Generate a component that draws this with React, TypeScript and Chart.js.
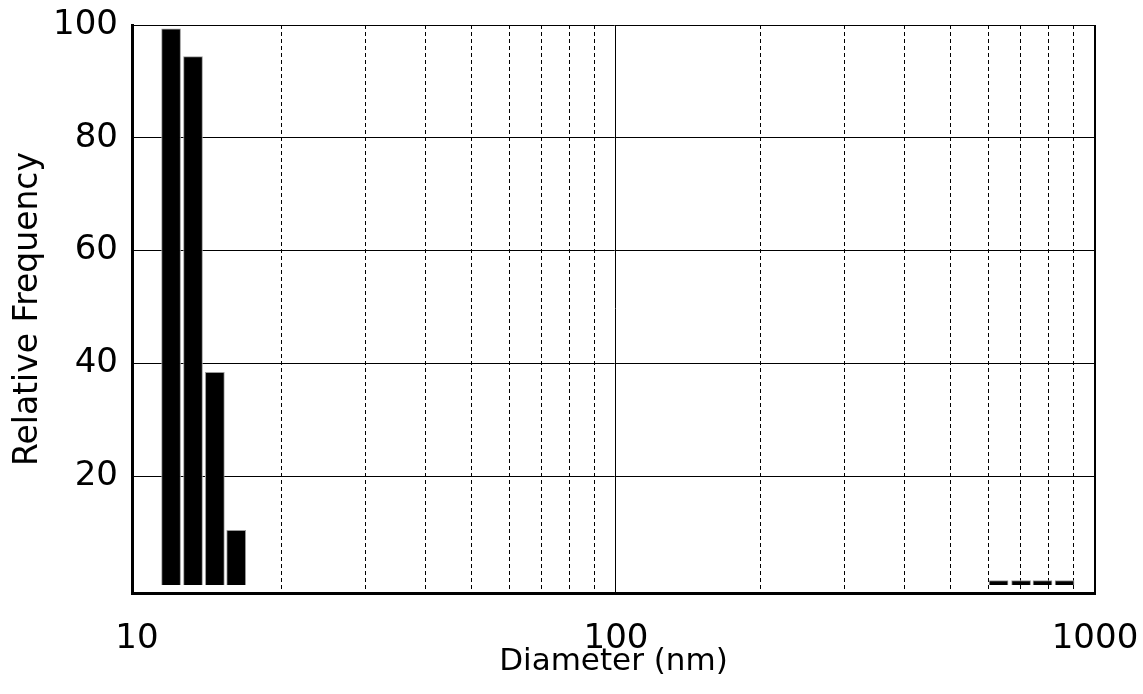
import React, { useEffect, useRef } from "react";
import { Chart, registerables } from "chart.js";

Chart.register(...registerables);

// Bin centres (nm) and relative frequency
const diameters = [11.78, 13.09, 14.54, 16.11, 629, 701, 777, 864];
const frequencies = [99.3, 94.4, 38.4, 10.4, 1.5, 1.5, 1.5, 1.5];
const barBase = 0.7;

const xTickValues = [10, 20, 30, 40, 50, 60, 70, 80, 90, 100, 200, 300, 400, 500, 600, 700, 800, 900, 1000];
const xTickLabels = ["10", "100", "1000"];
const yTickValues = [20, 40, 60, 80, 100];

const xTitle = "Diameter (nm)";
const yTitle = "Relative Frequency";

const FAMILY = "'DejaVu Sans', 'Liberation Sans', sans-serif";

export default function App() {
  const canvasRef = useRef<HTMLCanvasElement | null>(null);

  useEffect(() => {
    const canvas = canvasRef.current;
    if (!canvas) return;
    const tickFont = { family: FAMILY, size: 34 };
    const xTitleFont = { family: FAMILY, size: 31 };
    const yTitleFont = { family: FAMILY, size: 33 };
    const chart = new Chart(canvas, {
      type: "bar",
      data: {
        datasets: [
          {
            data: diameters.map((d, i) => ({ x: d, y: frequencies[i] })),
            backgroundColor: "#000",
            borderColor: "#9a9a9a",
            borderWidth: 1,
            barThickness: 19,
            base: barBase,
            grouped: false,
          } as any,
        ],
      },
      options: {
        animation: false,
        responsive: false,
        maintainAspectRatio: false,
        layout: { padding: { top: 25, right: 48, left: 0, bottom: 0 } },
        plugins: { legend: { display: false }, tooltip: { enabled: false } },
        scales: {
          x: {
            type: "logarithmic",
            min: 9.763,
            max: 1000,
            offset: false,
            afterBuildTicks: (s: any) => {
              s.ticks = xTickValues.map((v) => ({ value: v }));
            },
            afterFit: (s: any) => {
              s.height = 101;
              s.paddingLeft = 0;
              s.paddingRight = 0;
            },
            ticks: {
              autoSkip: false,
              maxRotation: 0,
              minRotation: 0,
              padding: 26,
              color: "#000",
              font: tickFont,
              callback: (v: any) => (xTickLabels.includes(String(v)) ? String(v) : ""),
            },
            grid: {
              offset: false,
              drawTicks: false,
              color: (ctx: any) => (ctx.tick && ctx.tick.value === 10 ? "rgba(0,0,0,0)" : "#000"),
              lineWidth: (ctx: any) => (ctx.tick && ctx.tick.value === 1000 ? 2 : 1),
            },
            border: {
              display: true,
              color: "#000",
              width: 3,
              dash: (ctx: any) =>
                ctx.tick && ctx.tick.value !== 100 && ctx.tick.value !== 1000 ? [4, 3] : [],
            },
            title: {
              display: true,
              text: xTitle,
              color: "#000",
              font: xTitleFont,
              padding: { top: 0, bottom: 13 },
            },
          } as any,
          y: {
            type: "linear",
            min: -0.71,
            max: 100,
            afterBuildTicks: (s: any) => {
              s.ticks = yTickValues.map((v) => ({ value: v }));
            },
            afterFit: (s: any) => {
              s.width = 132;
              s.paddingTop = 0;
              s.paddingBottom = 0;
            },
            ticks: { padding: 14, color: "#000", font: tickFont },
            grid: { drawTicks: false, color: "#000", lineWidth: 1 },
            border: { display: true, color: "#000", width: 3 },
            title: {
              display: true,
              text: yTitle,
              color: "#000",
              font: yTitleFont,
              padding: { top: 9, bottom: 0 },
            },
          } as any,
        },
      },
    });
    return () => chart.destroy();
  }, []);

  return (
    <div style={{ position: "fixed", left: 0, top: 0, width: 1143, height: 694, background: "#fff" }}>
      <canvas ref={canvasRef} width={1143} height={694} style={{ display: "block" }} />
    </div>
  );
}
